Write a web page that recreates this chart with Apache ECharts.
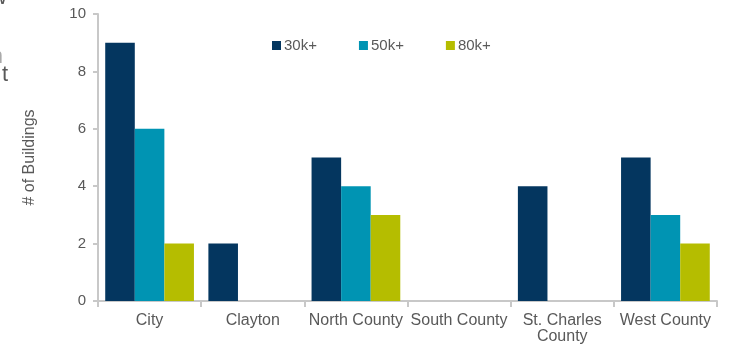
<!DOCTYPE html>
<html>
<head>
<meta charset="utf-8">
<script src="https://cdn.jsdelivr.net/npm/echarts@6/dist/echarts.min.js"></script>
<style>
  html, body { margin: 0; padding: 0; background: #fff; }
  #main { width: 731px; height: 346px; }
</style>
</head>
<body>
<div id="main"></div>
<script>
// categories and values
var areas = ['City', 'Clayton', 'North County', 'South County', 'St. Charles\nCounty', 'West County'];
var k30 = [9, 2, 5, 0, 4, 5];
var k50 = [6, 0, 4, 0, 0, 3];
var k80 = [2, 0, 3, 0, 0, 2];
var yTicks = [0, 2, 4, 6, 8, 10];

var txt = '#595959';
var axisGray = '#c8c8c8';

var myChart = echarts.init(document.getElementById('main'));
myChart.setOption({
    animation: false,
    textStyle: { fontFamily: 'Liberation Sans, Arial, sans-serif' },
    graphic: [
        // bits of slide text cut off at the left edge
        { type: 'text', style: { x: 7, y: 9, text: 'w', textAlign: 'right', textVerticalAlign: 'bottom', fontSize: 22, fill: txt } },
        { type: 'text', style: { x: 3, y: 68, text: 'n', textAlign: 'right', textVerticalAlign: 'bottom', fontSize: 22, fill: '#aaa' } },
        { type: 'text', style: { x: 8, y: 86, text: 't', textAlign: 'right', textVerticalAlign: 'bottom', fontSize: 22, fill: txt } }
    ],
    legend: {
        left: 267,
        top: 33,
        itemWidth: 9,
        itemHeight: 9,
        itemGap: 42,
        icon: 'rect',
        textStyle: { color: txt, fontSize: 15, padding: [0, 0, 0, -2] },
        data: ['30k+', '50k+', '80k+']
    },
    grid: { left: 98, right: 14, top: 14, bottom: 45, outerBoundsMode: 'none' },
    xAxis: {
        type: 'category',
        data: areas,
        axisLine: { lineStyle: { color: axisGray, width: 2 } },
        axisTick: { show: true, length: 6, lineStyle: { color: axisGray, width: 2 } },
        axisLabel: { color: txt, fontSize: 16, margin: 12, interval: 0, lineHeight: 16 }
    },
    yAxis: {
        type: 'value',
        min: yTicks[0],
        max: yTicks[yTicks.length - 1],
        interval: 2,
        name: '# of Buildings',
        nameLocation: 'middle',
        nameGap: 60,
        nameTextStyle: { color: txt, fontSize: 16 },
        axisLine: { show: true, lineStyle: { color: axisGray, width: 2 } },
        axisTick: { show: true, length: 5, lineStyle: { color: axisGray, width: 2 } },
        axisLabel: { color: txt, fontSize: 15, margin: 12 },
        splitLine: { show: false }
    },
    series: [
        { name: '30k+', type: 'bar', data: k30, barGap: 0, barCategoryGap: '14%', itemStyle: { color: '#04365f' } },
        { name: '50k+', type: 'bar', data: k50, itemStyle: { color: '#0094b3' } },
        { name: '80k+', type: 'bar', data: k80, itemStyle: { color: '#b5bd00' } }
    ]
});
</script>
</body>
</html>
